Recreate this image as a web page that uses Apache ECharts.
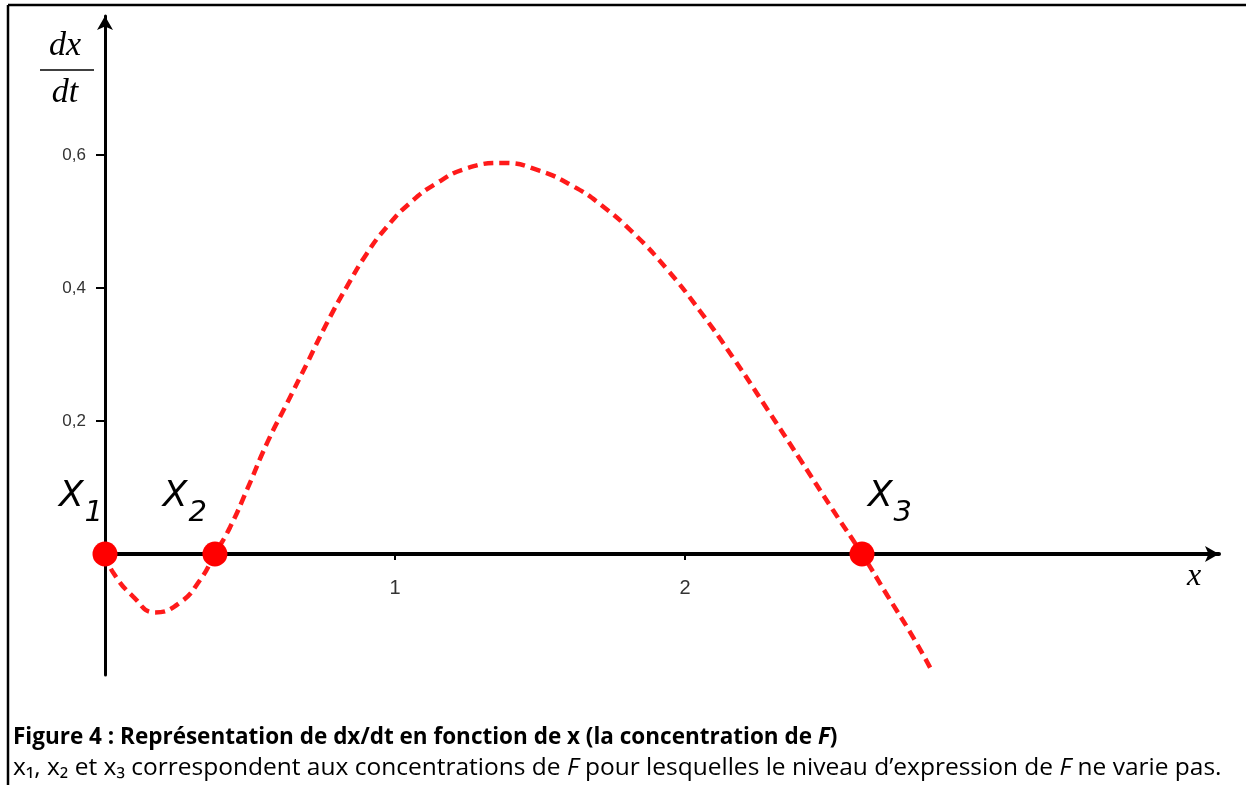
<!DOCTYPE html>
<html>
<head>
<meta charset="utf-8">
<script src="https://cdn.jsdelivr.net/npm/echarts@6/dist/echarts.min.js"></script>
<style>
html, body { margin: 0; padding: 0; background: #fff; }
#main { width: 1246px; height: 785px; }
</style>
</head>
<body>
<div id="main"></div>
<script>
// courbe dx/dt en fonction de x
var curveX = [0, 0.028, 0.097, 0.172, 0.259, 0.328, 0.379, 0.431, 0.490, 0.559, 0.628, 0.697, 0.766, 0.834, 0.903, 0.972,
              1.052, 1.145, 1.248, 1.372, 1.500, 1.614, 1.707, 1.821, 1.938, 2.052, 2.166, 2.283, 2.397, 2.510, 2.610, 2.697, 2.786, 2.855];
var curveY = [0, -0.028, -0.064, -0.088, -0.073, -0.039, 0, 0.040, 0.097, 0.167, 0.227, 0.287, 0.348, 0.402, 0.452, 0.492,
              0.528, 0.558, 0.580, 0.588, 0.576, 0.553, 0.526, 0.483, 0.428, 0.365, 0.295, 0.218, 0.142, 0.066, 0, -0.062, -0.125, -0.179];

// points d'equilibre x1, x2, x3
var rootX = [0, 0.379, 2.610];
var rootNames = ['1', '2', '3'];
var rootOffsets = [[-24, -41], [-30, -41], [28, -41]];

// graduations
var xTicks = [1, 2];
var yTicks = [0.2, 0.4, 0.6];

var curveData = curveX.map(function (x, i) { return [x, curveY[i]]; });
var rootData = rootX.map(function (x, i) {
    return {
        value: [x, 0],
        name: rootNames[i],
        label: { offset: rootOffsets[i] }
    };
});

var myChart = echarts.init(document.getElementById('main'));
myChart.setOption({
    animation: false,
    backgroundColor: '#fff',
    grid: {
        left: 105,
        right: 27,
        top: 16,
        bottom: 110,
        containLabel: false
    },
    xAxis: {
        type: 'value',
        min: 0,
        max: 3.841,
        axisLine: {
            onZero: true,
            symbol: ['none', 'arrow'],
            symbolSize: [12, 14],
            lineStyle: { color: '#000', width: 4 }
        },
        axisTick: {
            show: true,
            customValues: xTicks,
            length: 6,
            lineStyle: { color: '#000', width: 2 }
        },
        axisLabel: {
            customValues: xTicks,
            margin: -97,   // les etiquettes restent en bas de la grille, on les remonte sous l'axe
            color: '#333',
            fontFamily: 'Liberation Sans',
            fontSize: 20,
            formatter: function (v) { return String(v); }
        },
        splitLine: { show: false }
    },
    yAxis: {
        type: 'value',
        min: -0.182,
        max: 0.809,
        axisLine: {
            onZero: false,
            symbol: ['none', 'arrow'],
            symbolSize: [12, 14],
            lineStyle: { color: '#000', width: 3 }
        },
        axisTick: {
            show: true,
            customValues: yTicks,
            length: 9,
            lineStyle: { color: '#000', width: 2 }
        },
        axisLabel: {
            customValues: yTicks,
            margin: 19,
            color: '#333',
            fontFamily: 'Liberation Sans',
            fontSize: 17,
            formatter: function (v) { return v.toFixed(1).replace('.', ','); }
        },
        splitLine: { show: false }
    },
    series: [{
        type: 'line',
        data: curveData,
        smooth: 0.5,
        showSymbol: false,
        lineStyle: {
            color: '#ff1a1a',
            width: 4.5,
            type: [10, 6]
        },
        z: 3
    }, {
        type: 'scatter',
        data: rootData,
        symbolSize: 25,
        itemStyle: { color: '#ff0000', opacity: 1 },
        z: 4,
        label: {
            show: true,
            position: 'inside',
            formatter: function (p) { return '{x|X}{s|' + p.name + '}'; },
            rich: {
                x: {
                    fontFamily: 'DejaVu Sans',
                    fontStyle: 'italic',
                    fontSize: 36,
                    color: '#000',
                    lineHeight: 36,
                    verticalAlign: 'top'
                },
                s: {
                    fontFamily: 'DejaVu Sans',
                    fontStyle: 'italic',
                    fontWeight: 300,
                    fontSize: 29,
                    color: '#000',
                    lineHeight: 68,
                    padding: [0, 0, 0, 1]
                }
            }
        }
    }],
    graphic: [
        // cadre
        { type: 'line', shape: { x1: 8, y1: 5, x2: 1246, y2: 5 }, style: { stroke: '#000', lineWidth: 2.5 } },
        { type: 'line', shape: { x1: 8, y1: 5, x2: 8, y2: 785 }, style: { stroke: '#000', lineWidth: 2.5 } },
        // nom de l'axe y : dx/dt
        { type: 'text', x: 65, y: 46, style: { text: 'dx', font: 'italic 34px "Liberation Serif"', fill: '#000', align: 'center', verticalAlign: 'middle' } },
        { type: 'line', shape: { x1: 40, y1: 70, x2: 94, y2: 70 }, style: { stroke: '#000', lineWidth: 1.5 } },
        { type: 'text', x: 65, y: 93, style: { text: 'dt', font: 'italic 34px "Liberation Serif"', fill: '#000', align: 'center', verticalAlign: 'middle' } },
        // nom de l'axe x
        { type: 'text', x: 1194, y: 577, style: { text: 'x', font: 'italic 32px "Liberation Serif"', fill: '#000', align: 'center', verticalAlign: 'middle' } },
        // legende
        {
            type: 'text', x: 13, y: 738,
            style: {
                text: '{b|Figure 4 : Représentation de dx/dt en fonction de x (la concentration de }{bi|F}{b|)}',
                verticalAlign: 'middle',
                rich: {
                    b: { font: 'bold 22.5px "Open Sans"', fill: '#000' },
                    bi: { font: 'italic bold 22.5px "Open Sans"', fill: '#000' }
                }
            }
        },
        {
            type: 'text', x: 13, y: 768,
            style: {
                text: '{r|x₁, x₂ et x₃ correspondent aux concentrations de }{i|F}{r| pour lesquelles le niveau d’expression de }{i|F}{r| ne varie pas.}',
                verticalAlign: 'middle',
                rich: {
                    r: { font: '24.5px "Open Sans"', fill: '#000' },
                    i: { font: 'italic 24.5px "Open Sans"', fill: '#000' }
                }
            }
        }
    ]
});
</script>
</body>
</html>
